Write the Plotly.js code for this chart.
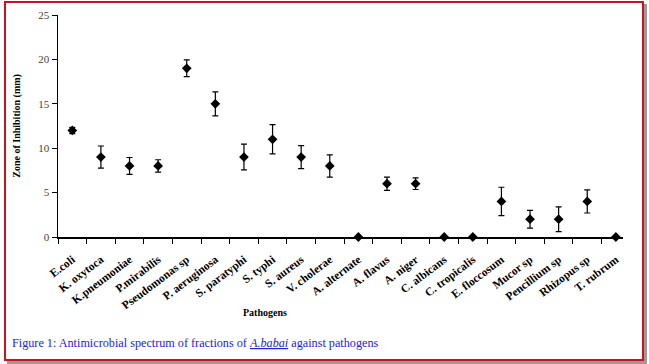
<!DOCTYPE html>
<html>
<head>
<meta charset="utf-8">
<script src="https://cdn.plot.ly/plotly-3.0.1.min.js"></script>
<style>
  html, body { margin: 0; padding: 0; background: #ffffff; }
  #wrap { position: relative; width: 649px; height: 364px; }
  #chart { width: 649px; height: 364px; }
  #frame { position: absolute; left: 4px; top: 1px; width: 636px; height: 356px;
           border: 2px solid #c8141e; box-shadow: 3px 3px 0 #9a9a9a; pointer-events: none; }
</style>
</head>
<body>
<div id="wrap">
  <div id="chart"></div>
  <div id="frame"></div>
</div>
<script>
const pathogens = ["E.coli", "K. oxytoca", "K.pneumoniae", "P.mirabilis", "Pseudomonas sp",
  "P. aeruginosa", "S. paratyphi", "S. typhi", "S. aureus", "V. cholerae", "A. alternate",
  "A. flavus", "A. niger", "C. albicans", "C. tropicalis", "E. floccosum", "Mucor sp",
  "Pencillium sp", "Rhizopus sp", "T. rubrum"];
const zoneMm = [12, 9, 8, 8, 19, 15, 9, 11, 9, 8, 0, 6, 6, 0, 0, 4, 2, 2, 4, 0];
const errMm = [0.35, 1.25, 0.95, 0.7, 0.95, 1.35, 1.45, 1.65, 1.3, 1.25, 0, 0.75, 0.65, 0, 0, 1.6, 1.0, 1.4, 1.3, 0];
const yTicks = [0, 5, 10, 15, 20, 25];

const serif = "Liberation Serif, Times New Roman, serif";

const trace = {
  type: "scatter",
  mode: "markers",
  x: pathogens,
  y: zoneMm,
  marker: { symbol: "diamond", size: 7.5, color: "#000000" },
  error_y: { type: "data", array: errMm, visible: true, color: "#000000", thickness: 1.2, width: 3 },
  cliponaxis: false,
  hoverinfo: "x+y"
};

const layout = {
  width: 649, height: 364,
  margin: { l: 58, r: 26, t: 15, b: 127 },
  paper_bgcolor: "#ffffff", plot_bgcolor: "#ffffff",
  showlegend: false,
  font: { family: serif, color: "#000000" },
  xaxis: {
    type: "category",
    range: [-0.5, 19.25],
    tickson: "boundaries",
    ticks: "outside", ticklen: 5, tickcolor: "#000", tickwidth: 1,
    showline: true, linecolor: "#000", linewidth: 1.5,
    showgrid: false, zeroline: false,
    tickangle: -37,
    ticklabelstandoff: 10,
    tickfont: { family: serif, size: 11.5, color: "#000", weight: "bold" },
    fixedrange: true
  },
  yaxis: {
    range: [0, 25],
    tickvals: yTicks,
    ticktext: yTicks.map(String),
    ticks: "outside", ticklen: 5, tickcolor: "#000", tickwidth: 1,
    showline: true, linecolor: "#000", linewidth: 1.5,
    showgrid: false, zeroline: false,
    tickfont: { family: serif, size: 11, color: "#444" },
    fixedrange: true
  },
  annotations: [
    { text: "<b>Zone of Inhibition (mm)</b>", xref: "paper", yref: "paper",
      x: -0.073, y: 0.5, textangle: -90, showarrow: false,
      xanchor: "center", yanchor: "middle",
      font: { family: serif, size: 10, color: "#000" } },
    { text: "<b>Pathogens</b>", xref: "paper", yref: "paper",
      x: 0.366, y: -0.338, showarrow: false, xanchor: "center", yanchor: "middle",
      font: { family: serif, size: 10, color: "#000" } },
    { text: "Figure 1: Antimicrobial spectrum of fractions of <i><span style=\"text-decoration:underline\">A.babai</span></i> against pathogens",
      xref: "paper", yref: "paper", x: -0.085, y: -0.477, showarrow: false,
      xanchor: "left", yanchor: "middle",
      font: { family: "Liberation Serif, serif", size: 12.2, color: "#2323d6" } }
  ]
};

Plotly.newPlot("chart", [trace], layout, { displayModeBar: false, staticPlot: true });
</script>
</body>
</html>
